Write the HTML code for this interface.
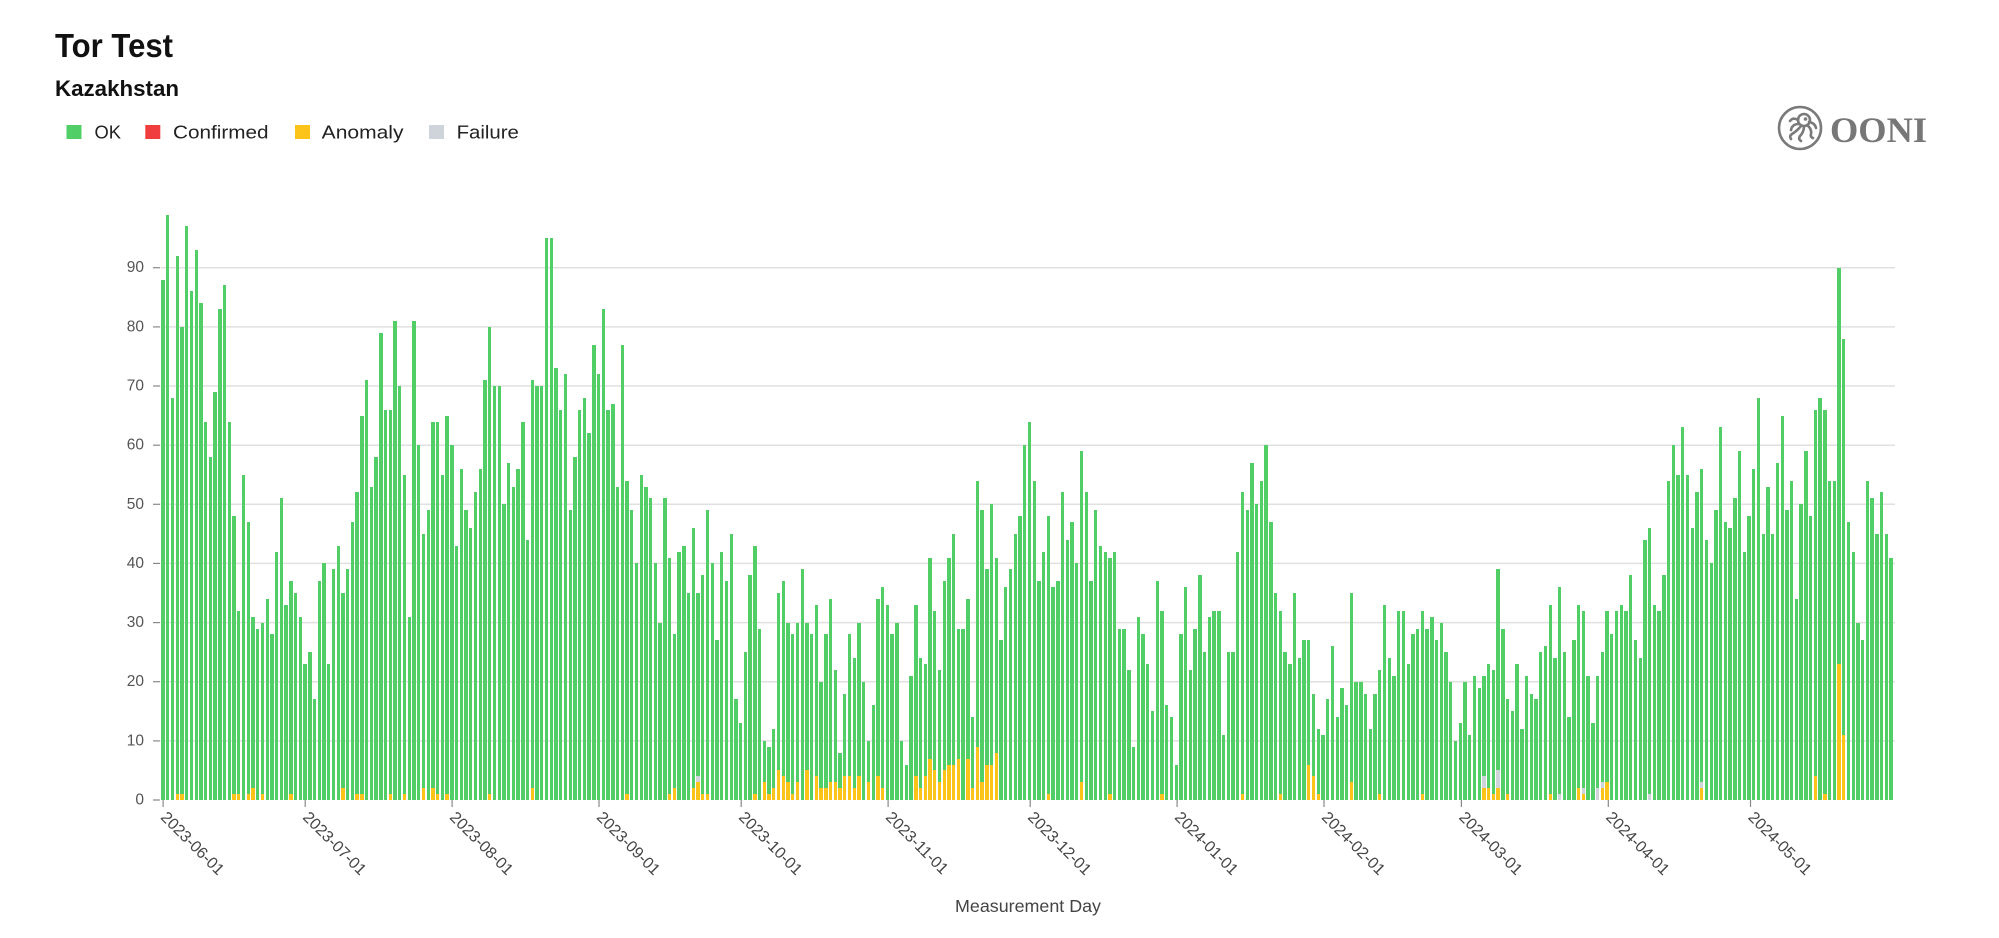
<!DOCTYPE html>
<html>
<head>
<meta charset="utf-8">
<style>
html,body{margin:0;padding:0;background:#fff;}
body{width:1999px;height:938px;position:relative;overflow:hidden;font-family:"Liberation Sans",sans-serif;}
svg{position:absolute;left:0;top:0;}
#bars{position:absolute;left:160.7px;top:200px;width:1734.3px;height:600px;display:flex;align-items:flex-end;}
#bars b{flex:1 1 0;min-width:0;margin:0 0.69px;height:calc(var(--v)*5.914px);background:#51cf66;position:relative;display:block;}
#bars b::before{content:"";position:absolute;left:0;right:0;bottom:0;height:calc(var(--a,0)*5.914px);background:#fcc419;}
#bars b::after{content:"";position:absolute;left:0;right:0;bottom:calc(var(--a,0)*5.914px);height:calc(var(--f,0)*5.914px);background:#ced4da;}
</style>
</head>
<body>
<svg width="1999" height="938" viewBox="0 0 1999 938" xmlns="http://www.w3.org/2000/svg">
  <!-- titles -->
  <text x="55" y="57" font-family="Liberation Sans, sans-serif" font-weight="bold" font-size="33" fill="#111" textLength="118" lengthAdjust="spacingAndGlyphs">Tor Test</text>
  <text x="55" y="96" font-family="Liberation Sans, sans-serif" font-weight="bold" font-size="22" fill="#111" textLength="124" lengthAdjust="spacingAndGlyphs">Kazakhstan</text>
  <!-- legend -->
  <rect x="66.5" y="125" width="15" height="14" fill="#51cf66"/>
  <text x="94.5" y="138.5" font-family="Liberation Sans, sans-serif" font-size="18" fill="#222" textLength="26.5" lengthAdjust="spacingAndGlyphs">OK</text>
  <rect x="145.3" y="125" width="15" height="14" fill="#f03e3e"/>
  <text x="173" y="138.5" font-family="Liberation Sans, sans-serif" font-size="18" fill="#222" textLength="95.5" lengthAdjust="spacingAndGlyphs">Confirmed</text>
  <rect x="295" y="125" width="15" height="14" fill="#fcc419"/>
  <text x="321.7" y="138.5" font-family="Liberation Sans, sans-serif" font-size="18" fill="#222" textLength="81.8" lengthAdjust="spacingAndGlyphs">Anomaly</text>
  <rect x="429" y="125" width="15" height="14" fill="#ced4da"/>
  <text x="456.6" y="138.5" font-family="Liberation Sans, sans-serif" font-size="18" fill="#222" textLength="62.3" lengthAdjust="spacingAndGlyphs">Failure</text>

  <!-- OONI logo -->
  <g fill="none" stroke="#7a7a7a" stroke-width="2.6" stroke-linecap="round">
    <circle cx="1800" cy="128" r="21"/>
    <circle cx="1804" cy="120" r="6"/>
    <path d="M1799,124 q-7,0 -8,6"/>
    <path d="M1801,126 q-4,5 -9,8 q-3,2 -1,5"/>
    <path d="M1804,126 q0,6 -4,10 q-2,3 1,5"/>
    <path d="M1807,125 q5,4 4,9 q-1,3 2,4"/>
    <path d="M1809,122 q6,1 7,6"/>
    <path d="M1798,120 q-5,-3 -8,1"/>
  </g>
  <circle cx="1805.5" cy="119" r="1.8" fill="#7a7a7a"/>
  <text x="1830" y="142" font-family="Liberation Serif, serif" font-weight="bold" font-size="36" fill="#777" textLength="97" lengthAdjust="spacingAndGlyphs">OONI</text>

  <!-- grid -->
  <g stroke="#e0e0e0" stroke-width="1.5">
    <line x1="160.7" x2="1895" y1="740.9" y2="740.9"/>
    <line x1="160.7" x2="1895" y1="681.7" y2="681.7"/>
    <line x1="160.7" x2="1895" y1="622.6" y2="622.6"/>
    <line x1="160.7" x2="1895" y1="563.4" y2="563.4"/>
    <line x1="160.7" x2="1895" y1="504.3" y2="504.3"/>
    <line x1="160.7" x2="1895" y1="445.2" y2="445.2"/>
    <line x1="160.7" x2="1895" y1="386.0" y2="386.0"/>
    <line x1="160.7" x2="1895" y1="326.9" y2="326.9"/>
    <line x1="160.7" x2="1895" y1="267.7" y2="267.7"/>
  </g>
  <!-- y ticks -->
  <g stroke="#888" stroke-width="1.2">
    <line x1="153" x2="160" y1="800" y2="800"/>
    <line x1="153" x2="160" y1="740.9" y2="740.9"/>
    <line x1="153" x2="160" y1="681.7" y2="681.7"/>
    <line x1="153" x2="160" y1="622.6" y2="622.6"/>
    <line x1="153" x2="160" y1="563.4" y2="563.4"/>
    <line x1="153" x2="160" y1="504.3" y2="504.3"/>
    <line x1="153" x2="160" y1="445.2" y2="445.2"/>
    <line x1="153" x2="160" y1="386.0" y2="386.0"/>
    <line x1="153" x2="160" y1="326.9" y2="326.9"/>
    <line x1="153" x2="160" y1="267.7" y2="267.7"/>
  </g>
  <g font-family="Liberation Sans, sans-serif" font-size="15.5" fill="#555" text-anchor="end" dominant-baseline="central">
    <text x="144" y="800">0</text>
    <text x="144" y="740.9">10</text>
    <text x="144" y="681.7">20</text>
    <text x="144" y="622.6">30</text>
    <text x="144" y="563.4">40</text>
    <text x="144" y="504.3">50</text>
    <text x="144" y="445.2">60</text>
    <text x="144" y="386.0">70</text>
    <text x="144" y="326.9">80</text>
    <text x="144" y="267.7">90</text>
  </g>
  <!-- x ticks -->
  <g stroke="#888" stroke-width="1.2">
    <line x1="163.1" x2="163.1" y1="800" y2="807"/>
    <line x1="305.2" x2="305.2" y1="800" y2="807"/>
    <line x1="452.1" x2="452.1" y1="800" y2="807"/>
    <line x1="599.0" x2="599.0" y1="800" y2="807"/>
    <line x1="741.2" x2="741.2" y1="800" y2="807"/>
    <line x1="888.1" x2="888.1" y1="800" y2="807"/>
    <line x1="1030.2" x2="1030.2" y1="800" y2="807"/>
    <line x1="1177.1" x2="1177.1" y1="800" y2="807"/>
    <line x1="1324.0" x2="1324.0" y1="800" y2="807"/>
    <line x1="1461.4" x2="1461.4" y1="800" y2="807"/>
    <line x1="1608.3" x2="1608.3" y1="800" y2="807"/>
    <line x1="1750.5" x2="1750.5" y1="800" y2="807"/>
  </g>
  <g font-family="Liberation Sans, sans-serif" font-size="16" fill="#444" dominant-baseline="central">
    <text transform="translate(163.1,815) rotate(45)">2023-06-01</text>
    <text transform="translate(305.2,815) rotate(45)">2023-07-01</text>
    <text transform="translate(452.1,815) rotate(45)">2023-08-01</text>
    <text transform="translate(599.0,815) rotate(45)">2023-09-01</text>
    <text transform="translate(741.2,815) rotate(45)">2023-10-01</text>
    <text transform="translate(888.1,815) rotate(45)">2023-11-01</text>
    <text transform="translate(1030.2,815) rotate(45)">2023-12-01</text>
    <text transform="translate(1177.1,815) rotate(45)">2024-01-01</text>
    <text transform="translate(1324.0,815) rotate(45)">2024-02-01</text>
    <text transform="translate(1461.4,815) rotate(45)">2024-03-01</text>
    <text transform="translate(1608.3,815) rotate(45)">2024-04-01</text>
    <text transform="translate(1750.5,815) rotate(45)">2024-05-01</text>
  </g>
  <text x="1028" y="912" text-anchor="middle" font-family="Liberation Sans, sans-serif" font-size="17.5" fill="#444" textLength="146" lengthAdjust="spacingAndGlyphs">Measurement Day</text>
</svg>

<div id="bars">
<b style="--v:88"></b><b style="--v:99"></b><b style="--v:68"></b><b style="--v:92;--a:1"></b><b style="--v:80;--a:1"></b><b style="--v:97"></b><b style="--v:86"></b><b style="--v:93"></b><b style="--v:84"></b><b style="--v:64"></b>
<b style="--v:58"></b><b style="--v:69"></b><b style="--v:83"></b><b style="--v:87"></b><b style="--v:64"></b><b style="--v:48;--a:1"></b><b style="--v:32;--a:1"></b><b style="--v:55"></b><b style="--v:47;--a:1"></b><b style="--v:31;--a:2"></b>
<b style="--v:29"></b><b style="--v:30;--a:1"></b><b style="--v:34"></b><b style="--v:28"></b><b style="--v:42"></b><b style="--v:51"></b><b style="--v:33"></b><b style="--v:37;--a:1"></b><b style="--v:35"></b><b style="--v:31"></b>
<b style="--v:23"></b><b style="--v:25"></b><b style="--v:17"></b><b style="--v:37"></b><b style="--v:40"></b><b style="--v:23"></b><b style="--v:39"></b><b style="--v:43"></b><b style="--v:35;--a:2"></b><b style="--v:39"></b>
<b style="--v:47"></b><b style="--v:52;--a:1"></b><b style="--v:65;--a:1"></b><b style="--v:71"></b><b style="--v:53"></b><b style="--v:58"></b><b style="--v:79"></b><b style="--v:66"></b><b style="--v:66;--a:1"></b><b style="--v:81"></b>
<b style="--v:70"></b><b style="--v:55;--a:1"></b><b style="--v:31"></b><b style="--v:81"></b><b style="--v:60"></b><b style="--v:45;--a:2"></b><b style="--v:49"></b><b style="--v:64;--a:2"></b><b style="--v:64;--a:1"></b><b style="--v:55"></b>
<b style="--v:65;--a:1"></b>
<b style="--v:60"></b><b style="--v:43"></b><b style="--v:56"></b><b style="--v:49"></b><b style="--v:46"></b><b style="--v:52"></b><b style="--v:56"></b><b style="--v:71"></b><b style="--v:80;--a:1"></b><b style="--v:70"></b>
<b style="--v:70"></b><b style="--v:50"></b><b style="--v:57"></b><b style="--v:53"></b><b style="--v:56"></b><b style="--v:64"></b><b style="--v:44"></b><b style="--v:71;--a:2"></b><b style="--v:70"></b><b style="--v:70"></b>
<b style="--v:95"></b><b style="--v:95"></b><b style="--v:73"></b><b style="--v:66"></b><b style="--v:72"></b><b style="--v:49"></b><b style="--v:58"></b><b style="--v:66"></b><b style="--v:68"></b><b style="--v:62"></b>
<b style="--v:77"></b><b style="--v:72"></b><b style="--v:83"></b><b style="--v:66"></b><b style="--v:67"></b><b style="--v:53"></b><b style="--v:77"></b><b style="--v:54;--a:1"></b><b style="--v:49"></b><b style="--v:40"></b>
<b style="--v:55"></b><b style="--v:53"></b><b style="--v:51"></b><b style="--v:40"></b><b style="--v:30"></b><b style="--v:51"></b><b style="--v:41;--a:1"></b><b style="--v:28;--a:2"></b><b style="--v:42"></b><b style="--v:43"></b>
<b style="--v:35"></b><b style="--v:46;--a:2"></b><b style="--v:35;--a:3;--f:1"></b><b style="--v:38;--a:1"></b><b style="--v:49;--a:1"></b><b style="--v:40"></b><b style="--v:27"></b><b style="--v:42"></b><b style="--v:37"></b><b style="--v:45"></b>
<b style="--v:17"></b><b style="--v:13"></b>
<b style="--v:25"></b><b style="--v:38"></b><b style="--v:43;--a:1"></b><b style="--v:29"></b><b style="--v:10;--a:3"></b><b style="--v:9;--a:1"></b><b style="--v:12;--a:2"></b><b style="--v:35;--a:5"></b><b style="--v:37;--a:4"></b><b style="--v:30;--a:3"></b>
<b style="--v:28;--a:1"></b><b style="--v:30;--a:3"></b><b style="--v:39"></b><b style="--v:30;--a:5"></b><b style="--v:28"></b><b style="--v:33;--a:4"></b><b style="--v:20;--a:2"></b><b style="--v:28;--a:2"></b><b style="--v:34;--a:3"></b><b style="--v:22;--a:3"></b>
<b style="--v:8;--a:2"></b><b style="--v:18;--a:4"></b><b style="--v:28;--a:4"></b><b style="--v:24;--a:2"></b><b style="--v:30;--a:4"></b><b style="--v:20"></b><b style="--v:10;--a:3"></b><b style="--v:16"></b><b style="--v:34;--a:4"></b><b style="--v:36;--a:2"></b>
<b style="--v:33"></b><b style="--v:28"></b><b style="--v:30"></b><b style="--v:10"></b><b style="--v:6"></b><b style="--v:21"></b><b style="--v:33;--a:4"></b><b style="--v:24;--a:2"></b><b style="--v:23;--a:4"></b><b style="--v:41;--a:7"></b>
<b style="--v:32;--a:5"></b><b style="--v:22;--a:3"></b><b style="--v:37;--a:5"></b><b style="--v:41;--a:6"></b><b style="--v:45;--a:6"></b><b style="--v:29;--a:7"></b><b style="--v:29"></b><b style="--v:34;--a:7"></b><b style="--v:14;--a:2"></b><b style="--v:54;--a:9"></b>
<b style="--v:49;--a:3"></b><b style="--v:39;--a:6"></b><b style="--v:50;--a:6"></b><b style="--v:41;--a:8"></b><b style="--v:27"></b><b style="--v:36"></b><b style="--v:39"></b><b style="--v:45"></b><b style="--v:48"></b><b style="--v:60"></b><b style="--v:64"></b>
<b style="--v:54"></b><b style="--v:37"></b><b style="--v:42"></b><b style="--v:48;--a:1"></b><b style="--v:36"></b><b style="--v:37"></b><b style="--v:52"></b><b style="--v:44"></b><b style="--v:47"></b><b style="--v:40"></b>
<b style="--v:59;--a:3"></b><b style="--v:52"></b><b style="--v:37"></b><b style="--v:49"></b><b style="--v:43"></b><b style="--v:42"></b><b style="--v:41;--a:1"></b><b style="--v:42"></b><b style="--v:29"></b><b style="--v:29"></b>
<b style="--v:22"></b><b style="--v:9"></b><b style="--v:31"></b><b style="--v:28"></b><b style="--v:23"></b><b style="--v:15"></b><b style="--v:37"></b><b style="--v:32;--a:1"></b><b style="--v:16"></b><b style="--v:14"></b>
<b style="--v:6"></b><b style="--v:28"></b><b style="--v:36"></b><b style="--v:22"></b><b style="--v:29"></b><b style="--v:38"></b><b style="--v:25"></b><b style="--v:31"></b><b style="--v:32"></b><b style="--v:32"></b>
<b style="--v:11"></b><b style="--v:25"></b><b style="--v:25"></b><b style="--v:42"></b><b style="--v:52;--a:1"></b><b style="--v:49"></b><b style="--v:57"></b><b style="--v:50"></b><b style="--v:54"></b><b style="--v:60"></b>
<b style="--v:47"></b><b style="--v:35"></b><b style="--v:32;--a:1"></b><b style="--v:25"></b><b style="--v:23"></b><b style="--v:35"></b><b style="--v:24"></b><b style="--v:27"></b><b style="--v:27;--a:6"></b><b style="--v:18;--a:4"></b><b style="--v:12;--a:1"></b><b style="--v:11"></b>
<b style="--v:17"></b><b style="--v:26"></b><b style="--v:14"></b><b style="--v:19"></b><b style="--v:16"></b><b style="--v:35;--a:3"></b><b style="--v:20"></b><b style="--v:20"></b><b style="--v:18"></b><b style="--v:12"></b>
<b style="--v:18"></b><b style="--v:22;--a:1"></b><b style="--v:33"></b><b style="--v:24"></b><b style="--v:21"></b><b style="--v:32"></b><b style="--v:32"></b><b style="--v:23"></b><b style="--v:28"></b><b style="--v:29"></b>
<b style="--v:32;--a:1"></b><b style="--v:29"></b><b style="--v:31"></b><b style="--v:27"></b><b style="--v:30"></b><b style="--v:25"></b><b style="--v:20"></b><b style="--v:10"></b><b style="--v:13"></b><b style="--v:20"></b>
<b style="--v:11"></b><b style="--v:21"></b><b style="--v:19"></b><b style="--v:21;--a:2;--f:2"></b><b style="--v:23;--a:2"></b><b style="--v:22;--a:1"></b><b style="--v:39;--a:2;--f:3"></b><b style="--v:29"></b><b style="--v:17;--a:1"></b><b style="--v:15"></b>
<b style="--v:23"></b><b style="--v:12"></b><b style="--v:21"></b><b style="--v:18"></b><b style="--v:17"></b><b style="--v:25"></b><b style="--v:26"></b><b style="--v:33;--a:1"></b><b style="--v:24"></b><b style="--v:36;--f:1"></b>
<b style="--v:25"></b><b style="--v:14"></b><b style="--v:27"></b><b style="--v:33;--a:2"></b><b style="--v:32;--a:1;--f:1"></b><b style="--v:21"></b><b style="--v:13"></b><b style="--v:21;--f:2"></b><b style="--v:25;--a:2;--f:1"></b>
<b style="--v:32;--a:3"></b><b style="--v:28"></b><b style="--v:32"></b><b style="--v:33"></b><b style="--v:32"></b><b style="--v:38"></b><b style="--v:27"></b><b style="--v:24"></b><b style="--v:44"></b><b style="--v:46;--f:1"></b>
<b style="--v:33"></b><b style="--v:32"></b><b style="--v:38"></b><b style="--v:54"></b><b style="--v:60"></b><b style="--v:55"></b><b style="--v:63"></b><b style="--v:55"></b><b style="--v:46"></b><b style="--v:52"></b>
<b style="--v:56;--a:2;--f:1"></b><b style="--v:44"></b><b style="--v:40"></b><b style="--v:49"></b><b style="--v:63"></b><b style="--v:47"></b><b style="--v:46"></b><b style="--v:51"></b><b style="--v:59"></b><b style="--v:42"></b>
<b style="--v:48"></b><b style="--v:56"></b><b style="--v:68"></b><b style="--v:45"></b><b style="--v:53"></b><b style="--v:45"></b><b style="--v:57"></b><b style="--v:65"></b><b style="--v:49"></b><b style="--v:54"></b>
<b style="--v:34"></b><b style="--v:50"></b><b style="--v:59"></b><b style="--v:48"></b><b style="--v:66;--a:4"></b><b style="--v:68"></b><b style="--v:66;--a:1"></b><b style="--v:54"></b><b style="--v:54"></b><b style="--v:90;--a:23"></b>
<b style="--v:78;--a:11"></b><b style="--v:47"></b><b style="--v:42"></b><b style="--v:30"></b><b style="--v:27"></b><b style="--v:54"></b><b style="--v:51"></b><b style="--v:45"></b><b style="--v:52"></b><b style="--v:45"></b><b style="--v:41"></b>
</div>
</body>
</html>
